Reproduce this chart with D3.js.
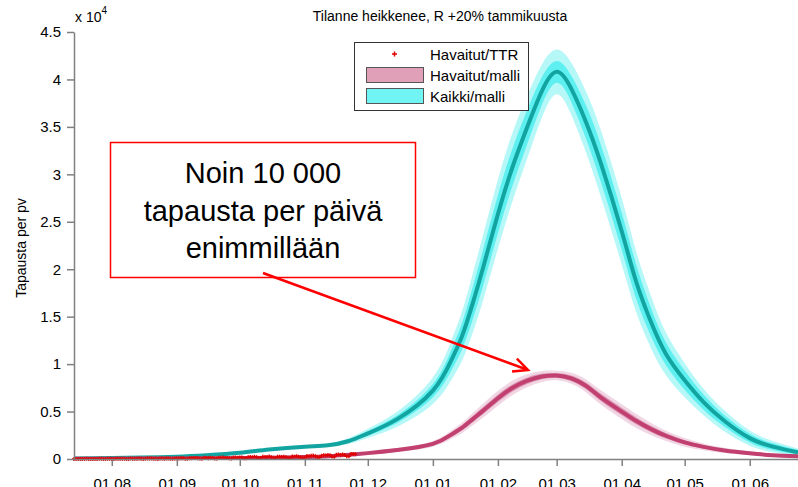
<!DOCTYPE html>
<html><head><meta charset="utf-8">
<script src="https://cdn.jsdelivr.net/npm/d3@7"></script>
<style>
html,body{margin:0;padding:0;background:#fff;overflow:hidden}
svg{display:block;font-family:"Liberation Sans",Arial,sans-serif}
</style></head>
<body>
<svg id="c" width="798" height="487"></svg>
<script>
// ---------- DATA (values in units of 10^4 cases per day) ----------
const modelDates = ["2020-07-14","2020-08-01","2020-08-15","2020-09-01","2020-09-15","2020-10-01","2020-10-15","2020-11-01","2020-11-12","2020-11-22","2020-12-01","2020-12-15","2021-01-01","2021-01-10","2021-01-15","2021-01-20","2021-01-25","2021-02-01","2021-02-08","2021-02-15","2021-02-22","2021-03-01","2021-03-08","2021-03-15","2021-03-22","2021-04-01","2021-04-08","2021-04-15","2021-04-22","2021-05-01","2021-05-10","2021-05-20","2021-06-01","2021-06-12","2021-06-24"];
// Kaikki/malli (all infections, model)
const kaikkiMid   = [0.005,0.010,0.015,0.025,0.040,0.065,0.100,0.130,0.145,0.190,0.270,0.420,0.720,1.050,1.300,1.640,2.020,2.580,3.080,3.500,3.880,4.080,3.900,3.550,3.120,2.400,1.860,1.440,1.110,0.830,0.600,0.400,0.220,0.130,0.070];
const kaikkiOuter = [0.005,0.005,0.006,0.008,0.010,0.012,0.014,0.015,0.017,0.030,0.048,0.080,0.140,0.210,0.260,0.310,0.345,0.365,0.360,0.330,0.280,0.235,0.275,0.320,0.350,0.350,0.320,0.275,0.225,0.180,0.140,0.110,0.080,0.060,0.040];
const kaikkiInner = [0.003,0.003,0.003,0.004,0.005,0.006,0.007,0.008,0.009,0.015,0.024,0.040,0.070,0.110,0.140,0.170,0.190,0.200,0.195,0.180,0.145,0.115,0.140,0.175,0.195,0.195,0.180,0.150,0.120,0.100,0.080,0.060,0.045,0.035,0.025];
// Havaitut/malli (observed cases, model)
const havaitutMid   = [0.002,0.003,0.004,0.005,0.007,0.010,0.014,0.020,0.030,0.045,0.062,0.095,0.160,0.260,0.330,0.420,0.510,0.640,0.750,0.825,0.870,0.880,0.850,0.770,0.650,0.500,0.400,0.315,0.245,0.175,0.128,0.090,0.060,0.040,0.030];
const havaitutOuter = [0.004,0.004,0.004,0.005,0.005,0.006,0.007,0.008,0.009,0.011,0.015,0.020,0.030,0.045,0.055,0.065,0.073,0.078,0.076,0.068,0.058,0.050,0.058,0.068,0.076,0.078,0.074,0.065,0.055,0.045,0.035,0.028,0.020,0.015,0.012];
const havaitutInner = [0.002,0.002,0.002,0.003,0.003,0.003,0.004,0.004,0.004,0.006,0.008,0.010,0.015,0.022,0.028,0.032,0.037,0.040,0.039,0.035,0.030,0.026,0.030,0.035,0.039,0.040,0.037,0.032,0.028,0.022,0.018,0.014,0.010,0.008,0.006];
// Havaitut/TTR: observed daily cases (raw counts), daily from obsStart
const obsStart = "2020-07-14";
const obsCounts = [5,8,10,3,2,12,15,9,6,11,4,3,14,18,10,7,20,15,
 12,5,25,30,22,28,35,10,8,40,38,25,33,45,15,12,30,48,52,40,35,20,10,55,42,38,60,45,22,15,50,
 65,58,70,80,30,25,90,85,110,95,72,40,35,120,105,88,130,115,60,45,140,125,150,98,110,70,55,160,145,130,
 170,155,90,75,180,210,195,230,175,110,95,240,220,205,260,190,120,100,250,230,210,240,180,130,115,270,245,290,230,190,150,
 140,310,280,330,360,300,210,180,350,400,380,420,390,260,230,450,480,430,470,410,300,280,520,540,500];
const xDomain = ["2020-07-14","2021-06-24"];
const xTickDates = ["2020-08-01","2020-09-01","2020-10-01","2020-11-01","2020-12-01","2021-01-01","2021-02-01","2021-03-01","2021-04-01","2021-05-01","2021-06-01"];
const yTicks = [0,0.5,1,1.5,2,2.5,3,3.5,4,4.5];
const titleText = "Tilanne heikkenee, R +20% tammikuusta";
const yLabel = "Tapausta per pv";
const legendLabels = ["Havaitut/TTR","Havaitut/malli","Kaikki/malli"];
const noteLines = ["Noin 10 000","tapausta per päivä","enimmillään"];

// ---------- CHART ----------
const parse = d3.utcParse("%Y-%m-%d");
const svg = d3.select("#c");
const L = 74, R = 798, T = 32, B = 459;
const x = d3.scaleUtc().domain(xDomain.map(parse)).range([L, R]);
const y = d3.scaleLinear().domain([0, 4.5]).range([B, T]);
const axisCol = "#808080";

svg.append("defs").append("clipPath").attr("id","clip")
  .append("rect").attr("x",L).attr("y",T-20).attr("width",R-L).attr("height",B-T+20);

const mk = (mid, outer, inner) => modelDates.map((d,i)=>({d:parse(d), v:mid[i], o:outer[i], n:inner[i]}));
const kaikki = mk(kaikkiMid, kaikkiOuter, kaikkiInner);
const havaitut = mk(havaitutMid, havaitutOuter, havaitutInner);

const cv = d3.curveNatural;
const areaOf = key => d3.area().curve(cv)
  .x(p=>x(p.d)).y0(p=>y(Math.max(0,p.v-p[key]))).y1(p=>y(p.v+p[key]));
const lineOf = d3.line().curve(cv).x(p=>x(p.d)).y(p=>y(p.v));

const g = svg.append("g").attr("clip-path","url(#clip)");
g.append("path").datum(kaikki).attr("d",areaOf("o")).attr("fill","#b6f7f7");
g.append("path").datum(kaikki).attr("d",areaOf("n")).attr("fill","#5ef0f0");
g.append("path").datum(kaikki).attr("d",lineOf).attr("fill","none").attr("stroke","#12a4a0").attr("stroke-width",4);
g.append("path").datum(havaitut).attr("d",areaOf("o")).attr("fill","#f1d6e3");
g.append("path").datum(havaitut).attr("d",areaOf("n")).attr("fill","#dc98b8");
g.append("path").datum(havaitut).attr("d",lineOf).attr("fill","none").attr("stroke","#c1406f").attr("stroke-width",4);

// observed markers
const s0 = parse(obsStart);
const obs = obsCounts.map((c,i)=>({d:d3.utcDay.offset(s0,i), v:c/1e4}));
svg.append("g").selectAll("path").data(obs).join("path")
  .attr("d",p=>{const cx=x(p.d), cy=y(p.v); return `M${cx-2},${cy}H${cx+2}M${cx},${cy-2}V${cy+2}`;})
  .attr("stroke","#e00000").attr("stroke-width",1.4).attr("fill","none");

// axes
const xAxis = svg.append("g").attr("transform",`translate(0,${B})`)
  .call(d3.axisBottom(x).tickValues(xTickDates.map(parse)).tickSize(7).tickPadding(12)
    .tickFormat(d3.utcFormat("%d.%m")).tickSizeOuter(0));
xAxis.select(".domain").attr("stroke",axisCol).attr("stroke-width",1.5);
xAxis.selectAll(".tick line").attr("stroke",axisCol).attr("stroke-width",1.5);
xAxis.selectAll("text").attr("font-size",15).attr("fill","#000").attr("font-family","Liberation Sans, Arial, sans-serif");

const yAxis = svg.append("g").attr("transform",`translate(${L},0)`)
  .call(d3.axisLeft(y).tickValues(yTicks).tickSize(7).tickPadding(6).tickFormat(d3.format("")).tickSizeOuter(0));
yAxis.select(".domain").attr("stroke",axisCol).attr("stroke-width",1.5);
yAxis.selectAll(".tick line").attr("stroke",axisCol).attr("stroke-width",1.5);
yAxis.selectAll("text").attr("font-size",15).attr("fill","#000").attr("font-family","Liberation Sans, Arial, sans-serif");

// exponent
const ex = svg.append("text").attr("x",75).attr("y",22).attr("font-size",14).attr("fill","#000");
ex.append("tspan").text("x 10");
ex.append("tspan").attr("font-size",10).attr("dy",-8).text("4");

// title
svg.append("text").attr("x",440).attr("y",21).attr("text-anchor","middle").attr("font-size",14).text(titleText);

// y label
svg.append("text").attr("transform","translate(26,248) rotate(-90)").attr("text-anchor","middle")
  .attr("font-size",14).text(yLabel);

// legend
const lg = svg.append("g");
lg.append("rect").attr("x",354.5).attr("y",42.5).attr("width",174).attr("height",68)
  .attr("fill","#fff").attr("stroke","#333").attr("stroke-width",1);
const rows = [54, 75, 96];
lg.append("path").attr("d",`M392,${rows[0]}H397M394.5,${rows[0]-2.5}V${rows[0]+2.5}`).attr("stroke","#e00000").attr("stroke-width",1.5);
lg.append("rect").attr("x",366.5).attr("y",rows[1]-7.5).attr("width",57).attr("height",15).attr("fill","#e0a0b8").attr("stroke","#555");
lg.append("rect").attr("x",366.5).attr("y",rows[2]-7.5).attr("width",57).attr("height",15).attr("fill","#70f4f4").attr("stroke","#555");
legendLabels.forEach((t,i)=>lg.append("text").attr("x",430).attr("y",rows[i]+5.5).attr("font-size",15).text(t));

// annotation box
svg.append("rect").attr("x",110.5).attr("y",142.5).attr("width",305).attr("height",135)
  .attr("fill","#fff").attr("stroke","#ff0000").attr("stroke-width",1.5);
noteLines.forEach((t,i)=>svg.append("text").attr("x",263).attr("y",183+i*37.5)
  .attr("text-anchor","middle").attr("font-size",29).text(t));

// arrow
const ax0=263, ay0=273, ax1=528, ay1=370;
const ang = Math.atan2(ay1-ay0, ax1-ax0), hl = 16, ha = 0.45;
svg.append("path").attr("d",
  `M${ax0},${ay0}L${ax1},${ay1}` +
  `M${ax1-hl*Math.cos(ang-ha)},${ay1-hl*Math.sin(ang-ha)}L${ax1},${ay1}L${ax1-hl*Math.cos(ang+ha)},${ay1-hl*Math.sin(ang+ha)}`)
  .attr("fill","none").attr("stroke","#ff0000").attr("stroke-width",2.5);
</script>
</body></html>
